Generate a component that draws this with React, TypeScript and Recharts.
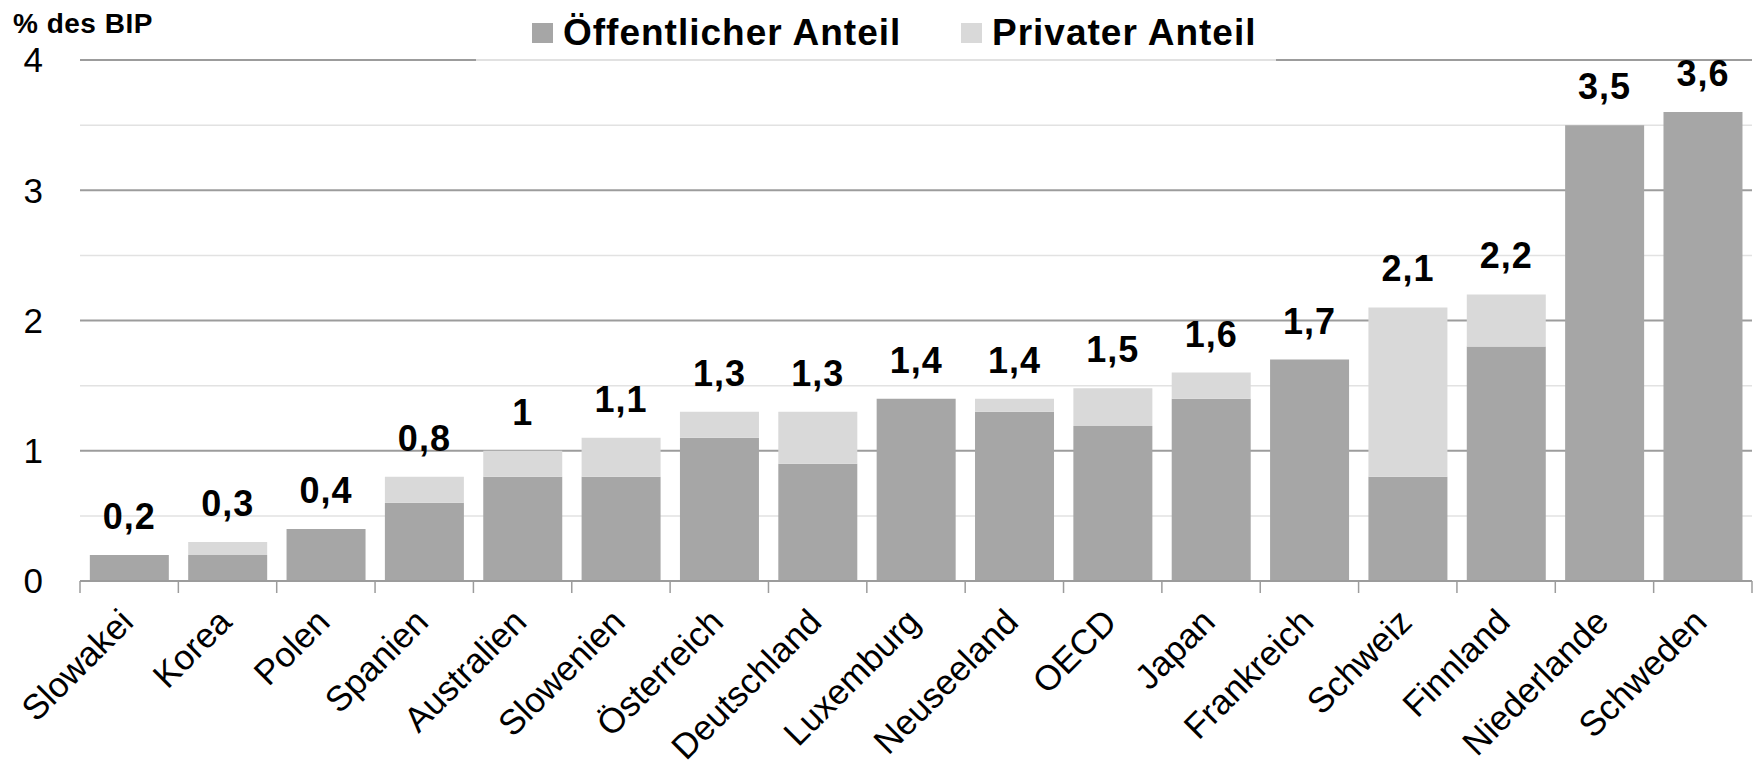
import React from 'react';
import {
    BarChart,
    Bar,
    XAxis,
    YAxis,
    CartesianGrid,
    Legend,
    LabelList,
} from 'recharts';

document.body.style.margin = '0';

// Bildungsausgaben in % des BIP
const categories = [
    'Slowakei', 'Korea', 'Polen', 'Spanien', 'Australien', 'Slowenien', 'Österreich',
    'Deutschland', 'Luxemburg', 'Neuseeland', 'OECD', 'Japan', 'Frankreich', 'Schweiz',
    'Finnland', 'Niederlande', 'Schweden',
];
const publicShare = [0.2, 0.2, 0.4, 0.6, 0.8, 0.8, 1.1, 0.9, 1.4, 1.3, 1.19, 1.4, 1.7, 0.8, 1.8, 3.5, 3.6];
const privateShare = [0, 0.1, 0, 0.2, 0.2, 0.3, 0.2, 0.4, 0, 0.1, 0.29, 0.2, 0, 1.3, 0.4, 0, 0];
const totals = [0.2, 0.3, 0.4, 0.8, 1, 1.1, 1.3, 1.3, 1.4, 1.4, 1.5, 1.6, 1.7, 2.1, 2.2, 3.5, 3.6];

const yTicks = [0, 1, 2, 3, 4];
const majorLines = [1, 2, 3, 4];
const minorLines = [0.5, 1.5, 2.5, 3.5];
const legendOrder = ['Öffentlicher Anteil', 'Privater Anteil'];

const data = categories.map((name, i) => ({
    name,
    pub: publicShare[i],
    priv: privateShare[i],
    total: totals[i],
}));

const PUB = '#a6a6a6';
const PRIV = '#d9d9d9';
const AXIS = '#9c9c9c';

// Beschriftung schräg + Teilstriche an den Kategoriegrenzen
function CategoryTick({ x, y, payload }: any) {
    const half = payload.offset ?? (1752 - 80) / categories.length / 2;
    const last = payload.index === categories.length - 1;
    return (
        <g>
            <line x1={x - half} y1={y} x2={x - half} y2={y + 12} stroke={AXIS} strokeWidth={1.5} />
            {last && <line x1={x + half} y1={y} x2={x + half} y2={y + 12} stroke={AXIS} strokeWidth={1.5} />}
            <text
                x={x + 6}
                y={y + 43}
                transform={`rotate(-45, ${x + 6}, ${y + 43})`}
                textAnchor="end"
                fontSize={35}
                fill="#000"
            >
                {payload.value}
            </text>
        </g>
    );
}

// Summe über dem Stapel; Position aus dem öffentlichen Balken abgeleitet
function TotalLabel({ x, y, width, height, value, index }: any) {
    const perUnit = height / publicShare[index];
    const top = y - privateShare[index] * perUnit;
    return (
        <text
            x={x + width / 2}
            y={top - 26}
            textAnchor="middle"
            fontSize={36}
            fontWeight="bold"
            letterSpacing={1}
            fill="#000"
        >
            {String(value).replace('.', ',')}
        </text>
    );
}

function LegendBox({ payload }: any) {
    const items = [...(payload || [])].sort(
        (a: any, b: any) => legendOrder.indexOf(a.value) - legendOrder.indexOf(b.value)
    );
    const xs = [56, 485];
    return (
        <svg width={800} height={64}>
            {items.map((it: any, i: number) => (
                <g key={it.value}>
                    <rect x={xs[i]} y={23} width={21} height={20} fill={it.color} />
                    <text
                        x={xs[i] + 31}
                        y={45}
                        fontSize={37}
                        fontWeight="bold"
                        letterSpacing={1}
                        fill="#000"
                    >
                        {it.value}
                    </text>
                </g>
            ))}
        </svg>
    );
}

export default function App() {
    return (
        <div style={{ position: 'relative', width: 1756, height: 768, fontFamily: '"Liberation Sans", Arial, sans-serif', background: '#fff' }}>
            <svg style={{ position: 'absolute', left: 0, top: 0 }} width={300} height={50}>
                <text x={13} y={33} fontSize={28} fontWeight="bold" letterSpacing={0.5} fill="#000">
                    % des BIP
                </text>
            </svg>
            <BarChart
                width={1756}
                height={768}
                data={data}
                margin={{ top: 60, right: 4, bottom: 0, left: 0 }}
                barCategoryGap="10%"
            >
                <CartesianGrid
                    vertical={false}
                    horizontalValues={minorLines}
                    stroke="#e2e2e2"
                    strokeWidth={1.5}
                />
                <CartesianGrid
                    vertical={false}
                    horizontalValues={majorLines}
                    stroke={AXIS}
                    strokeWidth={2}
                />
                <XAxis
                    dataKey="name"
                    interval={0}
                    axisLine={{ stroke: AXIS, strokeWidth: 2 }}
                    tickLine={false}
                    tickSize={0}
                    tickMargin={0}
                    height={187}
                    tick={<CategoryTick />}
                />
                <YAxis
                    domain={[0, 4]}
                    ticks={yTicks}
                    width={80}
                    axisLine={false}
                    tickLine={false}
                    tickSize={0}
                    tickMargin={37}
                    tick={{ fill: '#000', fontSize: 35 }}
                />
                <Legend
                    verticalAlign="middle"
                    align="center"
                    layout="horizontal"
                    content={<LegendBox />}
                    wrapperStyle={{
                        top: 0,
                        left: 476,
                        width: 800,
                        height: 64,
                        background: 'rgba(255,255,255,0.7)',
                    }}
                />
                <Bar
                    dataKey="pub"
                    name="Öffentlicher Anteil"
                    stackId="a"
                    fill={PUB}
                    isAnimationActive={false}
                >
                    <LabelList dataKey="total" content={<TotalLabel />} />
                </Bar>
                <Bar
                    dataKey="priv"
                    name="Privater Anteil"
                    stackId="a"
                    fill={PRIV}
                    isAnimationActive={false}
                />
            </BarChart>
        </div>
    );
}
